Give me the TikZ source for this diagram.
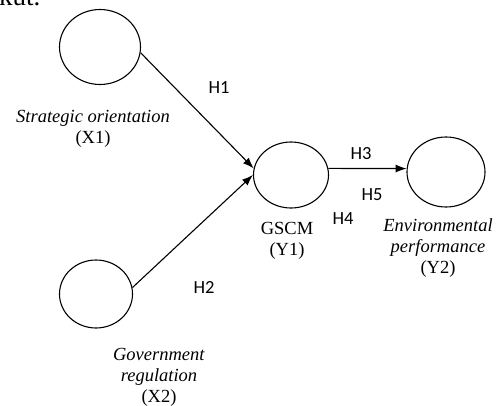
\documentclass[tikz,border=0pt]{standalone}
\usepackage{fontspec}
\setmainfont{Liberation Serif}
\newfontfamily\hfont{Carlito}
\usepackage{tikz}
\usetikzlibrary{shapes,arrows,arrows.meta,positioning}

\begin{document}
\begin{tikzpicture}[x=1pt, y=-1pt, >={Latex[length=11pt,width=8pt]}]
    % Define styles
    \tikzstyle{construct} = [ellipse, draw, line width=1.1pt, inner sep=0pt]
    \tikzstyle{caption} = [align=center, inner sep=0pt, font=\fontsize{18.5}{21}\selectfont]
    \tikzstyle{hyp} = [inner sep=0pt, font=\hfont\fontsize{18.5}{22}\selectfont]
    \tikzstyle{line} = [draw, ->, line width=1.1pt]

    \useasboundingbox (0,0) rectangle (498,405);

    % Nodes
    \node [anchor=base west, inner sep=0pt, font=\fontsize{27}{30}\selectfont] (top) at (-1,5) {kut.};
    \node [construct, minimum width=81pt, minimum height=75pt] (x1) at (100,47) {};
    \node [construct, minimum width=73pt, minimum height=68pt] (x2) at (96,294) {};
    \node [construct, minimum width=75pt, minimum height=66pt] (y1) at (291,175) {};
    \node [construct, minimum width=78pt, minimum height=70pt] (y2) at (446,172) {};

    \node [caption] (x1lab) at (93,129) {\textit{Strategic orientation}\\(X1)};
    \node [caption] (x2lab) at (159,377) {\textit{Government}\\\textit{regulation}\\(X2)};
    \node [caption] (y1lab) at (287,241) {GSCM\\(Y1)};
    \node [caption] (y2lab) at (438,248) {\textit{Environmental}\\\textit{performance}\\(Y2)};

    \node [hyp] (h1) at (219,88) {H1};
    \node [hyp] (h2) at (204,287) {H2};
    \node [hyp] (h3) at (361,154) {H3};
    \node [hyp] (h4) at (343,219) {H4};
    \node [hyp] (h5) at (372,195) {H5};

    % Arrows
    \draw [line] (x1.-8) -- (y1.170);
    \draw [line] (x2.10) -- (y1.180);
    \draw [line] (y1.10) -- (y2.175);
\end{tikzpicture}
\end{document}
